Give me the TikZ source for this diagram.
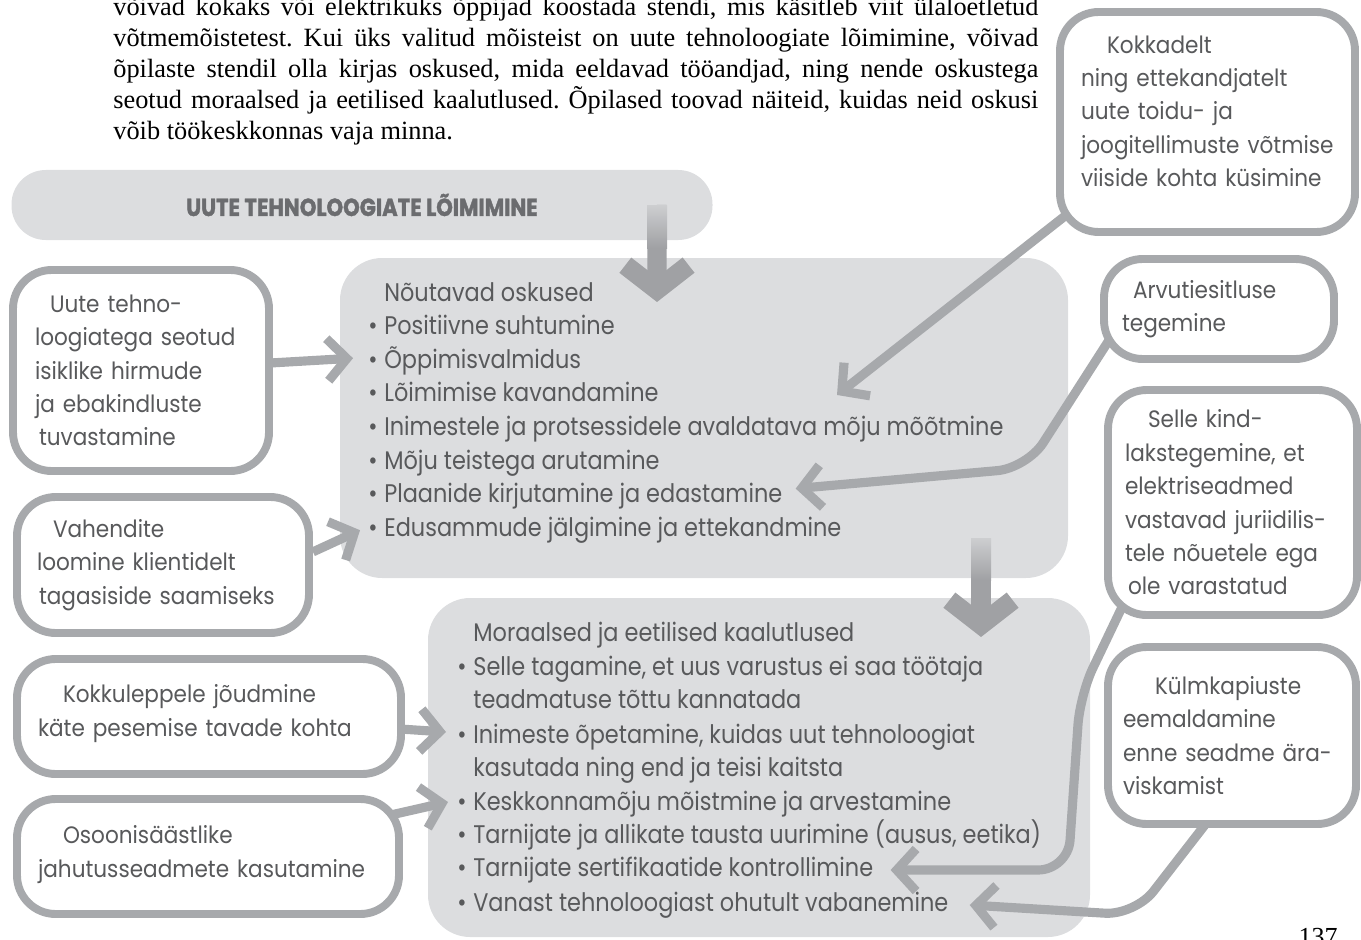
\documentclass[tikz,border=0pt]{standalone}
\usepackage{fontspec}
\setmainfont{Liberation Serif}
\newfontfamily\boxfont[FakeStretch=0.91]{Poppins}
\newfontfamily\listfont[FakeStretch=0.88]{Poppins}
\newfontfamily\headfont[FakeStretch=0.86,BoldFeatures={FakeBold=1.5}]{Poppins}
\usetikzlibrary{arrows.meta,calc}
\pgfdeclarelayer{back}
\pgfdeclarelayer{mid}
\pgfsetlayers{back,mid,main}
\definecolor{rimgray}{HTML}{A7A9AC}
\definecolor{panelgray}{HTML}{DCDDDF}
\definecolor{inkgray}{HTML}{58595B}
\definecolor{headgray}{HTML}{6B6C6F}
\definecolor{shaftgray}{HTML}{A0A1A4}
\definecolor{shafttop}{HTML}{CDCED0}
\newdimen\px
\px=0.02cm
\newcommand\bul{\makebox[16\px][l]{\textbullet}}
\newcommand\lift[1]{\rule[-#1\px]{0pt}{0pt}}
\frenchspacing

\begin{document}
\begin{tikzpicture}[x=0.02cm, y=-0.02cm,
  wbox/.style={draw=rimgray, line width=4.5pt, fill=white, rounded corners=22pt,
    text=inkgray, font=\boxfont\fontsize{13.5}{19}\selectfont, align=left, inner sep=0pt},
  panel/.style={fill=panelgray, rounded corners=24pt},
  pill/.style={fill=panelgray, rounded corners=19.5pt, inner sep=0pt,
    text=headgray, font=\headfont\bfseries\fontsize{14}{16}\selectfont},
  item/.style={anchor=base west, inner sep=0pt, text=inkgray,
    font=\listfont\fontsize{14.5}{19}\selectfont},
  link/.style={draw=rimgray, line width=5.2pt, rounded corners=17pt,
    -{Straight Barb[length=11pt,width=24pt]}},
  bigarrow/.style={draw=shaftgray, line width=11pt,
    -{Straight Barb[length=14pt,width=36pt]}}]
\useasboundingbox (0,0) rectangle (1361,939);

% page text
\node[anchor=base west, inner sep=0pt, text width=925*\px, align=justify,
  font=\fontsize{15}{17.6}\selectfont] (intro) at (113,16)
  {võivad kokaks või elektrikuks õppijad koostada stendi, mis käsitleb viit ülaloetletud\linebreak
   võtmemõistetest. Kui üks valitud mõisteist on uute tehnoloogiate lõimimine, võivad\linebreak
   õpilaste stendil olla kirjas oskused, mida eeldavad tööandjad, ning nende oskustega\linebreak
   seotud moraalsed ja eetilised kaalutlused. Õpilased toovad näiteid, kuidas neid oskusi\linebreak
   võib töökeskkonnas vaja minna.};
\node[anchor=base, inner sep=0pt, font=\fontsize{14.8}{17}\selectfont] (pnum) at (1318,945) {137};

% grey panels
\begin{pgfonlayer}{back}
\node[pill, minimum width=701*\px, minimum height=70*\px] (title) at (362,205)
  {UUTE TEHNOLOOGIATE LÕIMIMINE};
\fill[panel] (340,258) rectangle (1068,578);
\fill[panel] (428,598) rectangle (1090,937);
\end{pgfonlayer}

% lists
\node[item] (skh) at (384,301) {Nõutavad oskused};
\foreach \txt [count=\i] in {Positiivne suhtumine, Õppimisvalmidus, Lõimimise kavandamine,
  Inimestele ja protsessidele avaldatava mõju mõõtmine, Mõju teistega arutamine,
  Plaanide kirjutamine ja edastamine, Edusammude jälgimine ja ettekandmine}
  \node[item] (sk\i) at (368,{301+33.6*\i}) {\bul\txt};

\node[item] (mkh) at (473,641) {Moraalsed ja eetilised kaalutlused};
\node[item] (mk1) at (457,675) {\bul Selle tagamine, et uus varustus ei saa töötaja};
\node[item] (mk1b) at (473,708) {teadmatuse tõttu kannatada};
\node[item] (mk2) at (457,743) {\bul Inimeste õpetamine, kuidas uut tehnoloogiat};
\node[item] (mk2b) at (473,776) {kasutada ning end ja teisi kaitsta};
\node[item] (mk3) at (457,810) {\bul Keskkonnamõju mõistmine ja arvestamine};
\node[item] (mk4) at (457,843) {\bul Tarnijate ja allikate tausta uurimine (ausus, eetika)};
\node[item] (mk5) at (457,876) {\bul Tarnijate sertifikaatide kontrollimine};
\node[item] (mk6) at (457,911) {\bul Vanast tehnoloogiast ohutult vabanemine};

% white boxes
\node[wbox, minimum width=256*\px, minimum height=201*\px, text width=212*\px] (A) at (141,370.5)
  {\hspace*{15\px}Uute tehno-\\loogiatega~seotud\\isiklike~hirmude\\ja~ebakindluste\\\hspace*{4\px}tuvastamine};
\node[wbox, minimum width=292*\px, minimum height=136*\px, text width=252*\px] (B) at (163,565)
  {\hspace*{16\px}Vahendite\\loomine~klientidelt\\\hspace*{2\px}tagasiside~saamiseks};
\node[wbox, minimum width=384*\px, minimum height=115*\px, text width=342*\px] (C) at (209,716.5)
  {\hspace*{25\px}Kokkuleppele~jõudmine\\käte~pesemise~tavade~kohta\lift{12}};
\node[wbox, minimum width=382*\px, minimum height=115*\px, text width=340*\px] (D) at (208,856.5)
  {\hspace*{25\px}Osoonisäästlike\\jahutusseadmete~kasutamine\lift{10}};
\node[wbox, minimum width=295*\px, minimum height=220*\px, text width=253*\px] (E) at (1207.5,122)
  {\hspace*{26\px}Kokkadelt\\ning~ettekandjatelt\\uute~toidu-~ja\\joogitellimuste~võtmise\\viiside~kohta~küsimine\lift{22}};
\node[wbox, minimum width=230*\px, minimum height=100*\px, text width=194*\px] (F) at (1219,309)
  {\hspace*{11\px}Arvutiesitluse\\tegemine};
\node[wbox, minimum width=249*\px, minimum height=225*\px, text width=215*\px] (G) at (1232.5,502.5)
  {\hspace*{23\px}Selle~kind-\\lakstegemine,~et\\elektriseadmed\\vastavad~juriidilis-\\tele~nõuetele~ega\\\hspace*{3\px}ole~varastatud};
\node[wbox, minimum width=248*\px, minimum height=177*\px, text width=218*\px] (H) at (1232,735.5)
  {\hspace*{32\px}Külmkapiuste\\eemaldamine\\enne~seadme~ära-\\viskamist};

% connectors
\coordinate (etip) at (837,395);
\coordinate (down1) at (657,302);
\coordinate (up2) at (981,538);
\coordinate (down2) at (981,637);
\begin{pgfonlayer}{mid}
\draw[bigarrow] ($(title.east)+(-56,0)$) -- (down1);
\shade[top color=shafttop, bottom color=shaftgray] (647,205) rectangle (667,248);
\draw[bigarrow] (up2) -- (down2);
\shade[top color=shafttop, bottom color=shaftgray] (971,538) rectangle (991,580);
\draw[link] (A.center) -- ($(sk2.base west)+(-15,-10)$);
\draw[link] (B.5) -- ($(sk7.base west)+(-8,-6)$);
\draw[link] (C.center) -- ($(mk2.base west)+(-11,-11)$);
\draw[link] (D.center) -- ($(mk3.base west)+(-9,-8)$);
\draw[link] ($(E.south west)+(23,-31)$) -- (etip);
\draw[link] ($(F.south west)+(20,-40)$) -- (1027,468) -- ($(sk6.base east)+(13,-14)$);
\draw[link] ($(G.south west)+(29,-35)$) -- (1080,695) -- (1068,870) -- ($(mk5.base east)+(17,-6)$);
\draw[link] ($(H.south)+(-17,-16)$) -- (1135,915) -- ($(mk6.base east)+(21,-6)$);
\end{pgfonlayer}
\end{tikzpicture}
\end{document}
